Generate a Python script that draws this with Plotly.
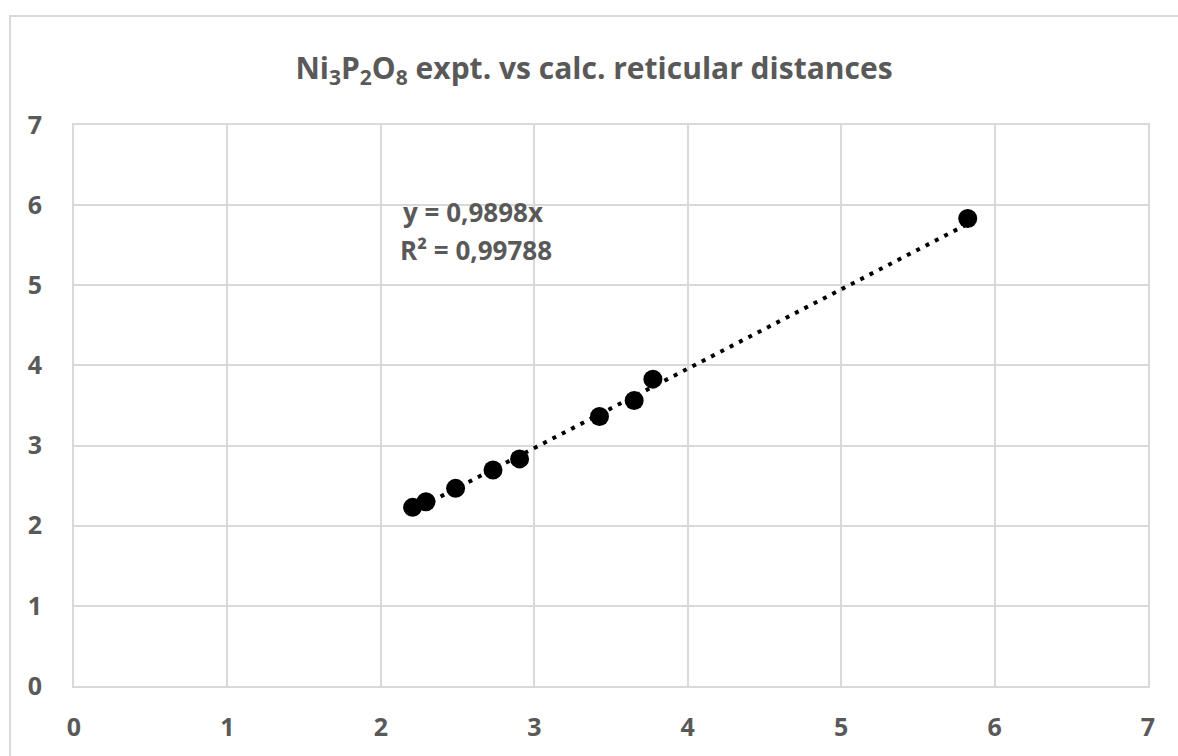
import plotly.graph_objects as go

# data
d_calc = [2.207, 2.294, 2.487, 2.731, 2.904, 3.425, 3.651, 3.773, 5.825]
d_expt = [2.229, 2.300, 2.466, 2.696, 2.834, 3.363, 3.563, 3.829, 5.834]
slope = 0.9898
r2 = "0,99788"
tick_vals = [0, 1, 2, 3, 4, 5, 6, 7]

FONT = "Open Sans"
GRAY = "#595959"
GRID = "#d9d9d9"

x_tr = [min(d_calc), max(d_calc)]
y_tr = [slope * v for v in x_tr]

fig = go.Figure()
fig.add_trace(go.Scatter(
    x=x_tr, y=y_tr, mode="lines",
    line=dict(color="black", width=4, dash="4px,6.5px"),
    hoverinfo="skip", showlegend=False))
fig.add_trace(go.Scatter(
    x=d_calc, y=d_expt, mode="markers",
    marker=dict(color="black", size=19, line=dict(width=0)),
    showlegend=False))

axis_common = dict(
    range=[0, 7], tickvals=tick_vals, showgrid=True, gridcolor=GRID, gridwidth=2,
    zeroline=False, showline=True, mirror=True, linecolor=GRID, linewidth=2,
    tickfont=dict(family=FONT, size=25, color=GRAY, weight="bold"),
    ticks="", fixedrange=True,
)
fig.update_xaxes(**axis_common, ticklabelstandoff=18)
fig.update_yaxes(**axis_common, ticklabelstandoff=25)

fig.add_annotation(x=2.60, y=5.91, xref="x", yref="y", showarrow=False,
                   text=f"y = {str(slope).replace('.', ',')}x",
                   font=dict(family=FONT, size=26, color=GRAY, weight="bold"))
fig.add_annotation(x=2.62, y=5.44, xref="x", yref="y", showarrow=False,
                   text=f"R² = {r2}",
                   font=dict(family=FONT, size=26, color=GRAY, weight="bold"))

# outer chart border
fig.add_shape(type="rect", xref="paper", yref="paper",
              x0=(10 - 74) / 1074, x1=1.2, y0=-0.5, y1=(686 - 16) / 561,
              line=dict(color=GRID, width=2), fillcolor="rgba(0,0,0,0)", layer="below")

fig.update_layout(
    width=1178, height=756,
    margin=dict(l=74, r=30, t=125, b=70, autoexpand=False),
    paper_bgcolor="white", plot_bgcolor="white",
    font=dict(family=FONT, color=GRAY, weight="bold"),
    title=dict(
        text="Ni<sub>3</sub>P<sub>2</sub>O<sub>8</sub> expt. vs calc. reticular distances",
        x=594 / 1178, xanchor="center", y=1 - 68 / 756, yanchor="middle",
        xref="container", yref="container",
        font=dict(family=FONT, size=30, color=GRAY, weight="bold")),
)

fig.write_html("out.html", config={"displayModeBar": False},
               post_script="document.body.style.margin='0';document.body.style.overflow='hidden';")
